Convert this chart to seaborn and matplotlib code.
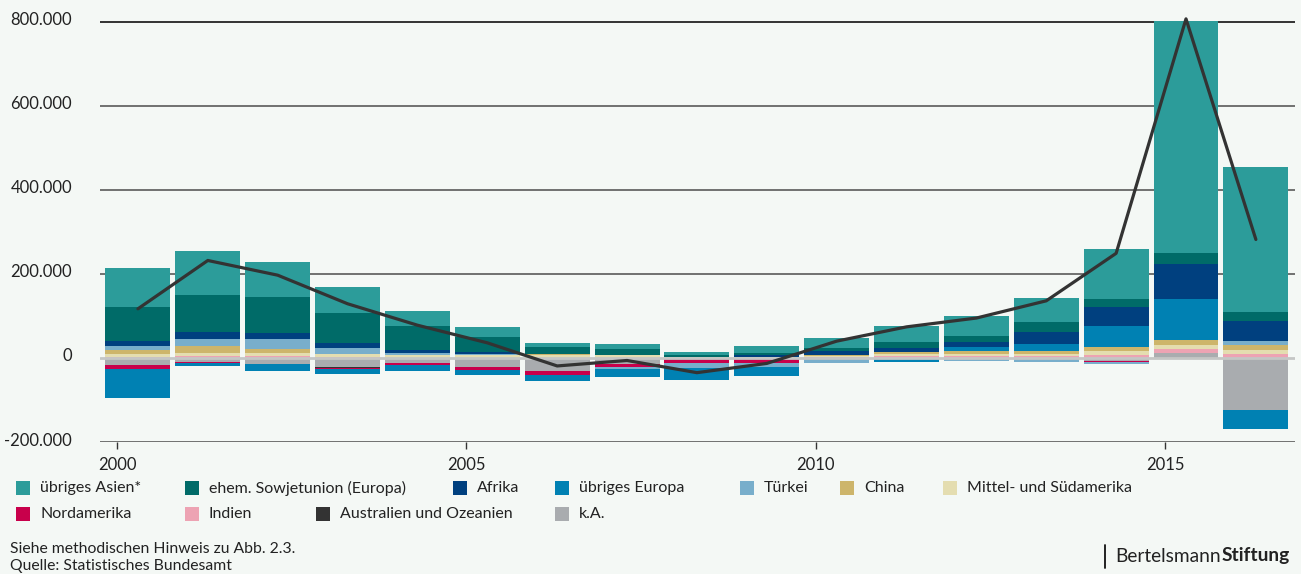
import numpy as np
import pandas as pd
import matplotlib
matplotlib.use("Agg")
import matplotlib.pyplot as plt
from matplotlib.patches import Rectangle
from matplotlib.ticker import FuncFormatter
from matplotlib.transforms import ScaledTranslation
import seaborn as sns

# ---------------------------------------------------------------
# Wanderungssaldo nach Herkunftsregionen (in Tausend Personen)
# ---------------------------------------------------------------
jahre = list(range(2000, 2017))

uebriges_asien = [92, 105, 83, 62, 36, 24, 9.5, 12, 6.3, 16.7, 23.8, 38, 47.6, 57, 119, 552, 345]
ehem_sowjetunion = [82, 88, 86, 71, 57, 36, 16, 13.5, 4.8, 4.8, 7.1, 14.3, 14.3, 24, 19, 26, 21]
afrika = [12, 17, 14, 12, 7, 5, 1, 0.5, 0, 4, 9.5, 9.5, 12, 28.6, 45, 83, 48]
uebriges_europa = [-68, -8, -17, -12.6, -14.3, -12.6, -14.3, -19, -28.6, -21.4, 0, -7, 9.5, 16.7, 50, 98, -45]
tuerkei = [9.5, 16.7, 24, 14.3, 4.8, 2.4, 0, -4.8, -10.3, -9.5, -8, 0, -4.8, -7, -4.8, 0, 9.5]
china = [9.5, 16.7, 9.5, 1, 0, 0, 2, 1, 1.5, 1.5, 2.4, 4.8, 7.1, 7.1, 9.5, 11.9, 11.9]
mittel_suedamerika = [6.3, 7, 7.1, 7, 6.3, 6.3, 7, 6, 1.5, 1.5, 3.6, 4.8, 4.8, 4.8, 9.5, 9.5, 9.5]
nordamerika = [-9.5, -1.6, -0.5, -3, -5.5, -6.4, -9.5, -8, -12.7, -11, -2, -1.5, -1.5, -1.5, -2.4, 0, 0]
indien = [3, 4.8, 4.8, 2.4, 0.7, 0, 0, 0, 0, 0, 1.2, 4.8, 4.8, 4.8, 7.1, 9.5, 9.5]
australien_ozeanien = [0, 0, 0, -1.2, 0, 0, 0, 0, 0, 0, 0, 0, 0, 0, 0, 0, 0]
keine_angabe = [-16.7, -9.5, -14.3, -22, -11, -21.4, -31, -13.5, 0, -1, -1, 0, -1, -1, -7.1, 11.9, -124]

# Gesamtsaldo (Linie)
saldo_gesamt = [117, 232, 197, 129, 78, 36, -19, -6, -35, -13, 40, 74, 95, 136, 249, 807, 282]

# Legend order (top of stack first)
labels = ["übriges Asien*", "ehem. Sowjetunion (Europa)", "Afrika", "übriges Europa",
          "Türkei", "China", "Mittel- und Südamerika", "Nordamerika", "Indien",
          "Australien und Ozeanien", "k.A."]
series = [uebriges_asien, ehem_sowjetunion, afrika, uebriges_europa, tuerkei, china,
          mittel_suedamerika, nordamerika, indien, australien_ozeanien, keine_angabe]
colors = ["#2c9c9a", "#006b68", "#00407f", "#0081b3", "#78aecb", "#cdb56b",
          "#e4ddb0", "#c8004b", "#eda3b3", "#333333", "#a9acaf"]

y_ticks = [-200000, 0, 200000, 400000, 600000, 800000]
x_ticks = [2000, 2005, 2010, 2015]

BG = "#f4f8f5"
TEXT = "#222222"

sns.set_theme(style="white")
plt.rcParams["font.family"] = ["Lato", "DejaVu Sans"]
plt.rcParams["axes.facecolor"] = BG
plt.rcParams["figure.facecolor"] = BG

W, H = 1301, 574
fig = plt.figure(figsize=(W / 100, H / 100), dpi=100)
ax = fig.add_axes([100 / W, 132 / H, 1195 / W, 437 / H])
ax.set_facecolor(BG)

x_bar = np.array(jahre) + 0.3
bar_w = 0.93

# stacked bars: positive and negative parts stack separately, k.A. closest to zero
pos_base = np.zeros(len(jahre))
neg_base = np.zeros(len(jahre))
for vals, col in zip(series[::-1], colors[::-1]):
    v = np.array(vals, dtype=float) * 1000
    pos = np.where(v > 0, v, 0)
    neg = np.where(v < 0, v, 0)
    ax.bar(x_bar, pos, bottom=pos_base, width=bar_w, color=col, linewidth=0, zorder=2)
    ax.bar(x_bar, neg, bottom=neg_base, width=bar_w, color=col, linewidth=0, zorder=2)
    pos_base += pos
    neg_base += neg

# gridlines
for yv in y_ticks:
    if yv == 0:
        continue
    ax.axhline(yv, color="#111111" if yv == 800000 else "#5a5a5a", linewidth=1.2, zorder=1)
ax.axhline(0, color="#c4c6c5", linewidth=2.0, zorder=3)

# total balance line
df_line = pd.DataFrame({"x": x_bar, "saldo": np.array(saldo_gesamt) * 1000})
sns.lineplot(data=df_line, x="x", y="saldo", ax=ax, color="#333333", linewidth=2.3,
             zorder=5, legend=False)

ax.set_xlim(1999.757, 2016.86)
ax.set_ylim(-200000, 840000)
ax.set_xticks(x_ticks)
ax.set_yticks(y_ticks)
ax.yaxis.set_major_formatter(FuncFormatter(lambda v, p: f"{int(v):,}".replace(",", ".")))
ax.tick_params(axis="y", length=0, pad=20, labelsize=12, labelcolor=TEXT)
ax.tick_params(axis="x", length=5, width=1, color="#333333", pad=6, labelsize=12,
               labelcolor=TEXT, bottom=True, direction="out")
for lab in ax.get_yticklabels():
    lab.set_transform(lab.get_transform() + ScaledTranslation(0, 3 / 100, fig.dpi_scale_trans))
ax.set_xlabel("")
ax.set_ylabel("")
for s in ax.spines.values():
    s.set_visible(False)
ax.grid(False)

# legend laid out in two rows
legend_pos = [(16, 488), (185, 488), (453, 488), (555, 488), (740, 488), (840, 488), (943, 488),
              (16, 514), (185, 514), (316, 514), (555, 514)]
sq = 14
for (px, py), lab, col in zip(legend_pos, labels, colors):
    fig.patches.append(Rectangle((px / W, 1 - (py + sq / 2) / H), sq / W, sq / H,
                                 transform=fig.transFigure, facecolor=col, edgecolor="none"))
    fig.text((px + sq + 10) / W, 1 - py / H, lab, fontsize=11.5, color=TEXT,
             ha="left", va="center")

# footer
fig.text(10 / W, 1 - 549 / H, "Siehe methodischen Hinweis zu Abb. 2.3.", fontsize=11.3,
         color=TEXT, ha="left", va="center")
fig.text(10 / W, 1 - 566 / H, "Quelle: Statistisches Bundesamt", fontsize=11.3,
         color=TEXT, ha="left", va="center")

# logo text
fig.add_artist(plt.Line2D([1105 / W, 1105 / W], [1 - 545 / H, 1 - 568 / H],
                          transform=fig.transFigure, color="#111111", linewidth=1.3))
t1 = fig.text(1115 / W, 1 - 556 / H, "Bertelsmann", fontsize=13.8, color=TEXT,
              ha="left", va="center")
fig.canvas.draw()
bb = t1.get_window_extent()
fig.text(bb.x1 / W + 1 / W, 1 - 556 / H, "Stiftung", fontsize=13.8, color=TEXT,
         fontweight="bold", ha="left", va="center")

fig.savefig("out.png", dpi=100, facecolor=BG)
